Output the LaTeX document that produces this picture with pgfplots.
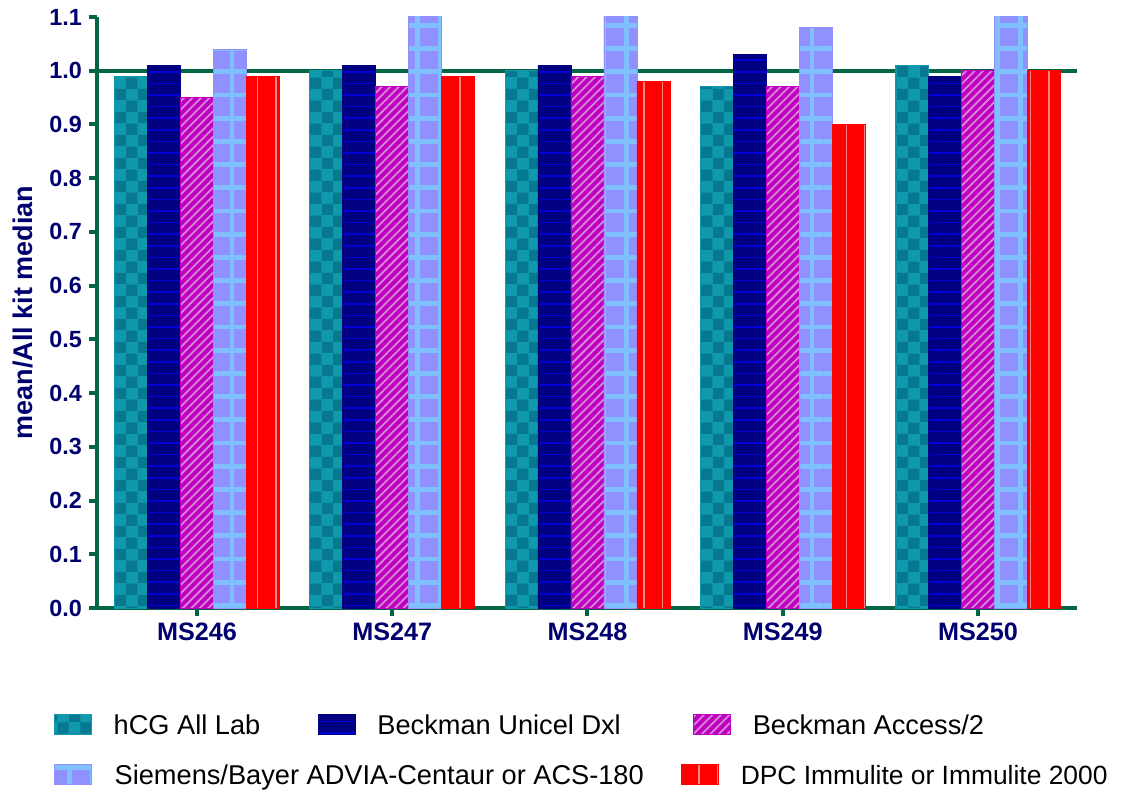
\documentclass[border=0pt]{standalone}
\usepackage{fontspec}
\setmainfont{Liberation Sans}
\usepackage{pgfplots}
\pgfplotsset{compat=1.18}
\usetikzlibrary{patterns,patterns.meta}

\pgfdeclarepatternformonly{mycheck}{\pgfqpoint{0pt}{0pt}}{\pgfqpoint{11.6pt}{11.6pt}}{\pgfqpoint{11.6pt}{11.6pt}}{%
\pgfpathrectangle{\pgfpointorigin}{\pgfqpoint{5.8pt}{5.8pt}}%
\pgfpathrectangle{\pgfqpoint{5.8pt}{5.8pt}}{\pgfqpoint{5.8pt}{5.8pt}}%
\pgfusepath{fill}}

\definecolor{agreen}{RGB}{0,102,68}
\definecolor{tnavy}{RGB}{0,0,110}
\definecolor{tealbase}{RGB}{16,152,172}
\definecolor{tealdark}{RGB}{6,120,144}
\definecolor{navybase}{RGB}{0,0,128}
\definecolor{navyline}{RGB}{0,0,215}
\definecolor{magbase}{RGB}{192,0,192}
\definecolor{magline}{RGB}{215,135,215}
\definecolor{siebase}{RGB}{144,144,255}
\definecolor{siegrid}{RGB}{128,192,255}
\definecolor{redbase}{RGB}{255,0,0}
\definecolor{redline}{RGB}{255,130,130}

\pgfplotsset{
  stdlegend/.style={legend image code/.code={\draw[##1] (0pt,0pt) rectangle (18.5pt,10pt);}},
  dpclegend/.style={legend image code/.code={\draw[##1] (-6pt,0pt) rectangle (12.5pt,10pt);}},
}

\begin{document}
\begin{tikzpicture}
\begin{axis}[
  scale only axis,
  width=490pt, height=295.5pt,
  xmin=-0.512, xmax=4.507,
  ymin=0, ymax=1.1,
  ybar=0pt, bar width=0.169,
  stdlegend,
  axis x line*=bottom, axis y line*=left,
  axis line style={line width=2pt, color=agreen},
  tick align=outside,
  major tick length=4pt,
  tick style={line width=2pt, color=agreen},
  xtick={0,1,2,3,4},
  xticklabels={MS246,MS247,MS248,MS249,MS250},
  ytick={0,0.1,0.2,0.3,0.4,0.5,0.6,0.7,0.8,0.9,1.0,1.1},
  yticklabel style={/pgf/number format/fixed,/pgf/number format/fixed zerofill,/pgf/number format/precision=1},
  /pgf/number format/assume math mode=true,
  ticklabel style={text=tnavy},
  xticklabel style={font=\bfseries\fontsize{12.6}{14}\selectfont},
  yticklabel style={font=\bfseries\fontsize{11.7}{14}\selectfont},
  extra y ticks={1},
  extra y tick labels={},
  extra y tick style={grid=major, major grid style={line width=2pt, color=agreen}},
  ylabel={mean/All kit median},
  ylabel style={at={(axis description cs:-0.076,0.5)}, anchor=center, font=\bfseries\fontsize{13.5}{15}\selectfont, text=tnavy},
  legend columns=3,
  legend cell align=left,
  legend style={at={(axis description cs:-0.0439,-0.1794)}, anchor=north west, draw=none, fill=none, inner sep=0pt,
    font=\fontsize{13.6}{16}\selectfont,
    nodes={inner sep=0pt},
    cells={anchor=base west},
    row sep=13.3pt,
    /tikz/every odd column/.append style={column sep=10.75pt},
    /tikz/every even column/.append style={column sep=0pt}},
]
\addplot[fill=tealbase, draw=tealbase, bar shift=-0.338, postaction={pattern=mycheck, pattern color=tealdark}]
  coordinates {(0,0.99) (1,1.00) (2,1.00) (3,0.97) (4,1.01)};
\addlegendentry{\makebox[102.25pt][l]{hCG All Lab}}
\addplot[fill=navybase, draw=navybase, bar shift=-0.169, postaction={pattern={Lines[angle=0,distance=5.8pt,line width=0.8pt]}, pattern color=navyline}]
  coordinates {(0,1.01) (1,1.01) (2,1.01) (3,1.03) (4,0.99)};
\addlegendentry{\makebox[152pt][l]{Beckman Unicel Dxl}}
\addplot[fill=magbase, draw=magbase, bar shift=0, postaction={pattern={Lines[angle=45,distance=3pt,line width=0.9pt]}, pattern color=magline}]
  coordinates {(0,0.95) (1,0.97) (2,0.99) (3,0.97) (4,1.00)};
\addlegendentry{Beckman Access/2}
\addplot[fill=siebase, draw=siebase, bar shift=0.169, postaction={pattern={Hatch[angle=0,distance=11.6pt,line width=2.4pt]}, pattern color=siegrid}]
  coordinates {(0,1.04) (1,1.15) (2,1.15) (3,1.08) (4,1.15)};
\addlegendentry{\makebox[0pt][l]{Siemens/Bayer ADVIA-Centaur or ACS-180}}
\addlegendimage{empty legend}
\addlegendentry{}
\addplot[fill=redbase, draw=redbase, bar shift=0.338, postaction={pattern={Lines[angle=90,distance=9.2pt,line width=0.8pt]}, pattern color=redline}, dpclegend]
  coordinates {(0,0.99) (1,0.99) (2,0.98) (3,0.90) (4,1.00)};
\addlegendentry{\hspace*{-6pt}\fontsize{13.2}{16}\selectfont DPC Immulite or Immulite 2000}
\coordinate (sw) at (rel axis cs:0,0);
\coordinate (ne) at (rel axis cs:1,1);
\end{axis}
\pgfresetboundingbox
\path[use as bounding box] ([shift={(-48.5pt,-91.5pt)}]sw) rectangle ([shift={(22.5pt,8.5pt)}]ne);
\end{tikzpicture}
\end{document}
